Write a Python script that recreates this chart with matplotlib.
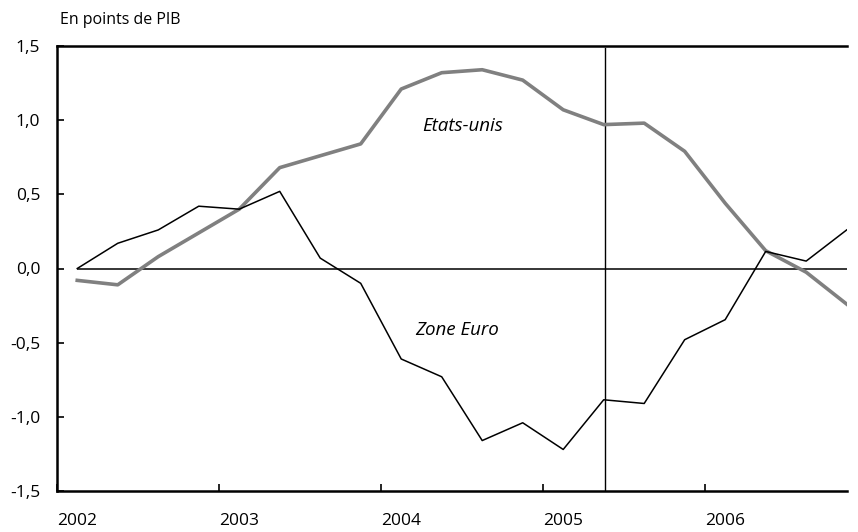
import matplotlib
matplotlib.use("Agg")
import matplotlib.pyplot as plt
from matplotlib.ticker import FuncFormatter

plt.rcParams['font.family'] = ['Open Sans', 'DejaVu Sans']

# Quarterly data 2002Q1 .. 2006Q4 (plotted mid-quarter)
quarters = [2002.125 + 0.25 * i for i in range(20)]
etats_unis = [-0.08, -0.11, 0.08, 0.24, 0.40, 0.68, 0.76, 0.84, 1.21, 1.32,
              1.34, 1.27, 1.07, 0.97, 0.98, 0.79, 0.44, 0.12, -0.025, -0.24]
zone_euro = [0.00, 0.17, 0.26, 0.42, 0.40, 0.52, 0.07, -0.10, -0.61, -0.73,
             -1.16, -1.04, -1.22, -0.885, -0.91, -0.48, -0.345, 0.115, 0.05, 0.26]
year_ticks = [2002, 2003, 2004, 2005, 2006]
year_labels = ["2002", "2003", "2004", "2005", "2006"]
y_ticks = [-1.5, -1.0, -0.5, 0.0, 0.5, 1.0, 1.5]
marker_date = 2005.385
x_end = 2006.877

W, H = 858, 532
fig = plt.figure(figsize=(W / 100, H / 100), dpi=100)
ax = fig.add_axes([57 / W, (H - 491) / H, (847 - 57) / W, (491 - 46) / H])

ax.plot(quarters, etats_unis, color='#808080', lw=2.6, zorder=3)
ax.plot(quarters, zone_euro, color='black', lw=1.1, zorder=4)
ax.hlines(0, quarters[0], x_end, color='black', lw=1.1, zorder=2)
ax.axvline(marker_date, ymax=0.995, color='black', lw=1.0, zorder=2)

ax.set_xlim(2002, x_end)
ax.set_ylim(-1.5, 1.5)

ax.spines['right'].set_visible(False)
for s in ['left', 'bottom', 'top']:
    ax.spines[s].set_linewidth(1.8)

ax.set_yticks(y_ticks)
ax.yaxis.set_major_formatter(FuncFormatter(lambda v, p: f"{v:.1f}".replace('.', ',')))
ax.set_xticks(year_ticks)
ax.set_xticklabels(year_labels, ha='left')
ax.tick_params(axis='y', direction='in', length=5, width=1.2, pad=12, labelsize=12.5)
ax.tick_params(axis='x', direction='in', length=5, width=1.2, pad=16, labelsize=12.5)

ax.text(463, H - 126, "Etats-unis", transform=None, fontsize=13.5, style='italic',
        ha='center', va='center')
ax.text(457, H - 330, "Zone Euro", transform=None, fontsize=13.5, style='italic',
        ha='center', va='center')

fig.text(60 / W, 1 - 20 / H, "En points de PIB", fontsize=11.5, ha='left', va='center')

fig.savefig("out.png", dpi=100)
